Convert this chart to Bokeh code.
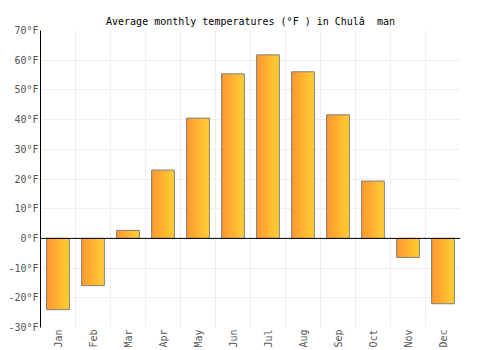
import math
from bokeh.plotting import figure
from bokeh.models import FixedTicker, Range1d, Span, PrintfTickFormatter, ColumnDataSource
from bokeh.embed import file_html
from bokeh.resources import INLINE

months = ["Jan", "Feb", "Mar", "Apr", "May", "Jun", "Jul", "Aug", "Sep", "Oct", "Nov", "Dec"]
temps_f = [-24.0, -15.9, 2.7, 23.0, 40.5, 55.4, 61.8, 56.1, 41.6, 19.3, -6.4, -22.0]
y_ticks = [-30, -20, -10, 0, 10, 20, 30, 40, 50, 60, 70]
title_text = "Average monthly temperatures (°F ) in Chulâ\u00a0\u00a0man"

FONT = "DejaVu Sans Mono"
idx = list(range(len(months)))

p = figure(width=500, height=350, output_backend="svg", toolbar_location=None,
           x_range=Range1d(-0.5, len(months) - 0.5), y_range=Range1d(y_ticks[0], y_ticks[-1]),
           min_border_left=40, min_border_right=40, min_border_top=30, min_border_bottom=20)
p.outline_line_color = None
p.background_fill_color = "white"
p.border_fill_color = "white"

p.title.text = title_text
p.title.text_font = FONT
p.title.text_font_size = "10px"
p.title.text_font_style = "normal"
p.title.align = "center"
p.title.text_color = "#000000"
p.title.offset = 0
p.title.standoff = 8

# gradient bars via narrow strips
bar_w = 0.65
n_strips = 14
c0 = (255, 152, 48)
c1 = (255, 204, 51)
sw = bar_w / n_strips
for s in range(n_strips):
    t = s / (n_strips - 1)
    col = "#%02x%02x%02x" % tuple(int(round(a + (b - a) * t)) for a, b in zip(c0, c1))
    off = -bar_w / 2 + sw * (s + 0.5)
    w = sw * 1.6 if s < n_strips - 1 else sw
    src = ColumnDataSource(dict(x=[i + off for i in idx], top=temps_f))
    p.vbar(x="x", top="top", bottom=0, width=w, source=src,
           fill_color=col, line_color=None)

src_o = ColumnDataSource(dict(x=idx, top=temps_f))
p.vbar(x="x", top="top", bottom=0, width=bar_w, source=src_o,
       fill_color=None, line_color="#808080", line_width=1)

p.add_layout(Span(location=0, dimension="width", line_color="black", line_width=1))

# axes
p.xaxis.ticker = FixedTicker(ticks=idx)
p.xaxis.major_label_overrides = {i: m for i, m in zip(idx, months)}
p.xaxis.major_label_orientation = math.pi / 2
p.xaxis.axis_line_color = None
p.xaxis.major_tick_line_color = None
p.xaxis.minor_tick_line_color = None
p.xaxis.major_tick_out = 0
p.xaxis.major_tick_in = 0
p.xaxis.major_label_text_font = FONT
p.xaxis.major_label_text_font_size = "10px"
p.xaxis.major_label_text_color = "#555555"
p.xaxis.major_label_standoff = 2

p.yaxis.ticker = FixedTicker(ticks=y_ticks)
p.yaxis.formatter = PrintfTickFormatter(format="%d°F")
p.yaxis.axis_line_color = "black"
p.yaxis.major_tick_line_color = None
p.yaxis.minor_tick_line_color = None
p.yaxis.major_tick_out = 0
p.yaxis.major_tick_in = 0
p.yaxis.major_label_text_font = FONT
p.yaxis.major_label_text_font_size = "10px"
p.yaxis.major_label_text_color = "#555555"
p.yaxis.major_label_standoff = 2

p.xgrid.ticker = FixedTicker(ticks=[i - 0.5 for i in idx] + [len(months) - 0.5])
p.xgrid.grid_line_color = "#eeeeee"
p.ygrid.grid_line_color = "#eeeeee"

open("out.html", "w").write(file_html(p, INLINE))
